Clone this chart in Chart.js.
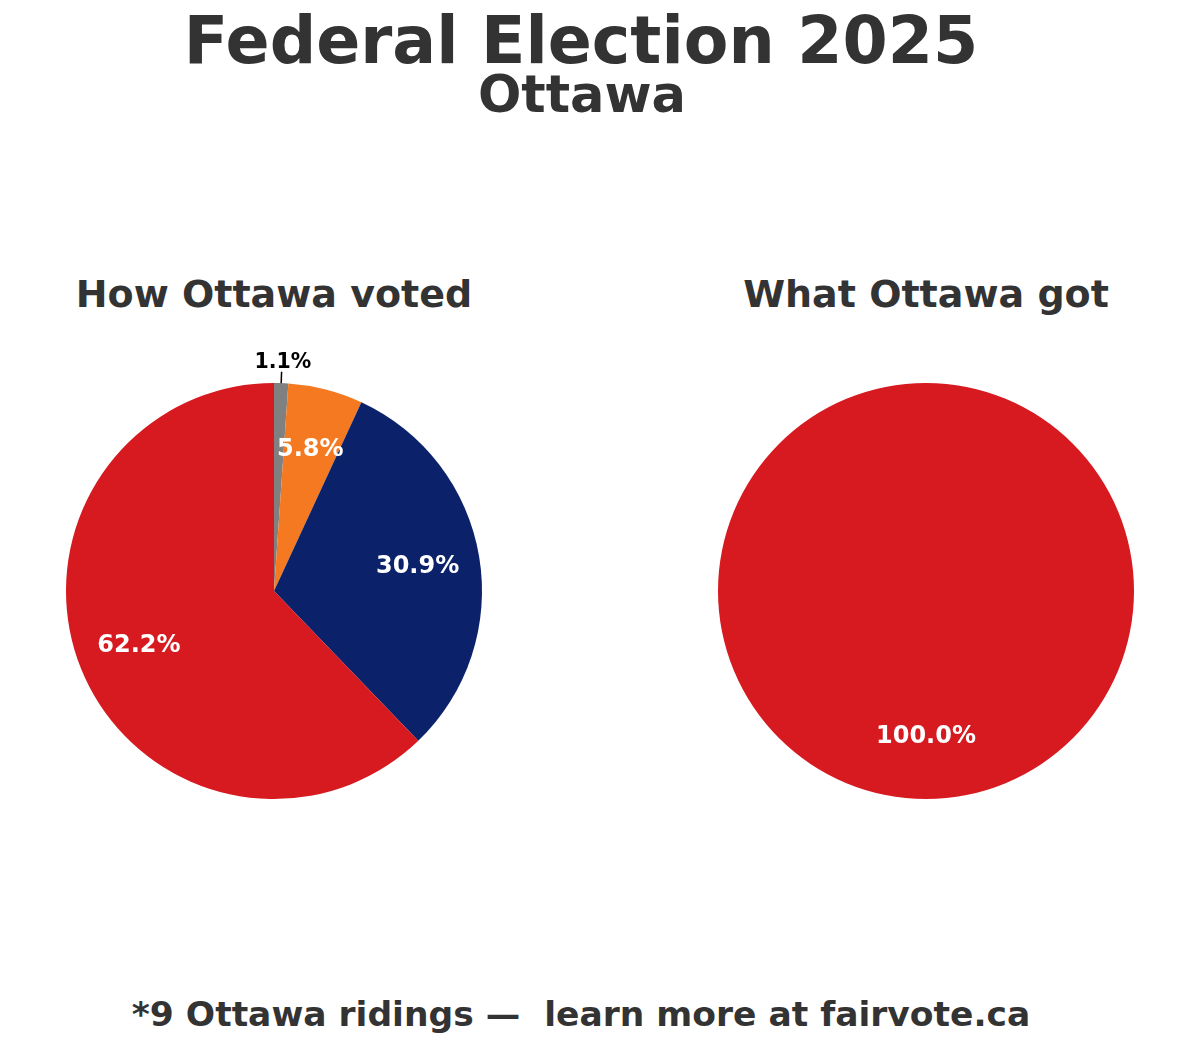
<!DOCTYPE html>
<html>
<head>
<meta charset="utf-8">
<script src="https://cdn.jsdelivr.net/npm/chart.js@4.4.1/dist/chart.umd.min.js"></script>
<style>
  body { margin: 0; background: #fff; }
  #page { position: relative; width: 1200px; height: 1048px; overflow: hidden; font-family: "DejaVu Sans", sans-serif; font-weight: bold; color: #333333; }
  .txt { position: absolute; left: 0; white-space: nowrap; line-height: 1; text-align: center; }
  .box { position: absolute; width: 520px; height: 520px; top: 331px; }
</style>
</head>
<body>
<div id="page">
  <div class="txt" style="top:8px; width:1162px; font-size:65px;">Federal Election 2025</div>
  <div class="txt" style="top:69px; width:1164px; font-size:51px;">Ottawa</div>
  <div class="txt" style="top:275px; width:548px; font-size:38px;">How Ottawa voted</div>
  <div class="txt" style="top:275px; left:652px; width:548px; font-size:38px;">What Ottawa got</div>
  <div class="box" style="left:14px;"><canvas id="voted"></canvas></div>
  <div class="box" style="left:666px;"><canvas id="got"></canvas></div>
  <div class="txt" style="top:997px; width:1162px; font-size:34.5px;">*9 Ottawa ridings —&nbsp; learn more at fairvote.ca</div>
</div>
<script>
// parties, clockwise from 12 o'clock
const votedParties = ['Other', 'NDP', 'Conservative', 'Liberal'];
const votedShares = [1.1, 5.8, 30.9, 62.2];
const votedColors = ['#808080', '#F47920', '#0B226B', '#D71920'];

const gotParties = ['Liberal'];
const gotSeats = [9];
const gotColors = ['#D71920'];

// percent labels: inside at 0.7 of the radius, small ones outside with a tick
const pctLabels = {
  id: 'pctLabels',
  afterDatasetsDraw(chart) {
    const ctx = chart.ctx;
    const meta = chart.getDatasetMeta(0);
    const data = chart.data.datasets[0].data;
    const total = data.reduce((a, b) => a + b, 0);
    ctx.save();
    ctx.textAlign = 'center';
    ctx.textBaseline = 'middle';
    meta.data.forEach((arc, i) => {
      const p = arc.getProps(['x', 'y', 'startAngle', 'endAngle', 'outerRadius']);
      const mid = (p.startAngle + p.endAngle) / 2;
      const pct = data[i] / total * 100;
      const label = pct.toFixed(1) + '%';
      if (pct < 3) {
        const cos = Math.cos(mid), sin = Math.sin(mid);
        ctx.strokeStyle = '#000';
        ctx.lineWidth = 1.5;
        ctx.beginPath();
        ctx.moveTo(p.x + cos * p.outerRadius, p.y + sin * p.outerRadius);
        ctx.lineTo(p.x + cos * p.outerRadius * 1.055, p.y + sin * p.outerRadius * 1.055);
        ctx.stroke();
        ctx.fillStyle = '#000';
        ctx.font = 'bold 20.5px "DejaVu Sans"';
        ctx.fillText(label, p.x + cos * p.outerRadius * 1.1 + 1, p.y + sin * p.outerRadius * 1.1);
      } else {
        ctx.fillStyle = '#fff';
        ctx.font = 'bold 24px "DejaVu Sans"';
        ctx.fillText(label, p.x + Math.cos(mid) * p.outerRadius * 0.7, p.y + Math.sin(mid) * p.outerRadius * 0.7);
      }
    });
    ctx.restore();
  }
};

const pieOptions = {
  responsive: true,
  maintainAspectRatio: false,
  animation: false,
  layout: { padding: 52 },
  plugins: { legend: { display: false }, tooltip: { enabled: false } }
};

new Chart(document.getElementById('voted'), {
  type: 'pie',
  data: { labels: votedParties, datasets: [{ data: votedShares, backgroundColor: votedColors, borderWidth: 0 }] },
  options: pieOptions,
  plugins: [pctLabels]
});

new Chart(document.getElementById('got'), {
  type: 'pie',
  data: { labels: gotParties, datasets: [{ data: gotSeats, backgroundColor: gotColors, borderWidth: 0 }] },
  options: pieOptions,
  plugins: [pctLabels]
});
</script>
</body>
</html>
